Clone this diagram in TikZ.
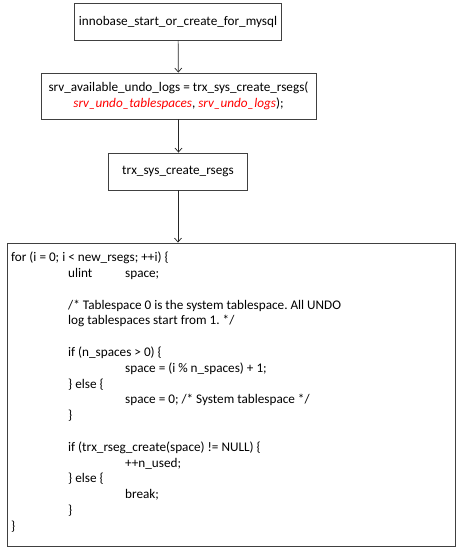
\documentclass[tikz,border=0pt]{standalone}
\usepackage{fontspec}
\setmainfont{Carlito}
\usepackage{xcolor}
\usepackage{tikz}
\usetikzlibrary{arrows.meta, positioning}
\newcommand{\codeind}{\hspace*{57pt}}
\newcommand{\codeindd}{\hspace*{114pt}}
\newcommand{\redarg}[1]{\textcolor{red}{\textit{#1}}}
\frenchspacing

\begin{document}
\begin{tikzpicture}[x=1pt,y=1pt,
    box/.style={draw=black!75,line width=0.9pt,inner sep=0pt,align=center,font=\fontsize{13.2}{15.8}\selectfont},
    link/.style={black!85,line width=0.7pt,-{Straight Barb[length=4pt,width=7pt]}}]
      \useasboundingbox(0,0)rectangle(464,-555);
      \node[box,minimum width=207pt,minimum height=37pt](start)at(178,-21.5){innobase\_start\_or\_create\_for\_mysql};
      \node[box,minimum width=275pt,minimum height=46pt](avail)at(178.5,-96){srv\_available\_undo\_logs = trx\_sys\_create\_rsegs(\\\redarg{srv\_undo\_tablespaces}, \redarg{srv\_undo\_logs});};
      \node[box,minimum width=139pt,minimum height=37pt](rsegs)at(178,-171.5){trx\_sys\_create\_rsegs};
      \node[box,minimum width=448pt,minimum height=303pt](loop)at(231,-394.5){};
      \node[anchor=north west,inner sep=0pt,align=left,font=\fontsize{13.2}{15.8}\selectfont](code)at(11,-250.4){%
        \strut for (i = 0; i < new\_rsegs; ++i) \{\\
        \strut\codeind\makebox[57pt][l]{ulint}space;\\
        \strut\\
        \strut\codeind /* Tablespace 0 is the system tablespace. All UNDO\\
        \strut\codeind log tablespaces start from 1. */\\
        \strut\\
        \strut\codeind if (n\_spaces > 0) \{\\
        \strut\codeindd space = (i \% n\_spaces) + 1;\\
        \strut\codeind \} else \{\\
        \strut\codeindd space = 0; /* System tablespace */\\
        \strut\codeind \}\\
        \strut\\
        \strut\codeind if (trx\_rseg\_create(space) != NULL) \{\\
        \strut\codeindd ++n\_used;\\
        \strut\codeind \} else \{\\
        \strut\codeindd break;\\
        \strut\codeind \}\\
        \strut\}};
      \draw[link](start)--(avail);
      \draw[link](avail)--(avail|-rsegs.north);
      \draw[link](rsegs)--(rsegs|-loop.north);
    \end{tikzpicture}
\end{document}
